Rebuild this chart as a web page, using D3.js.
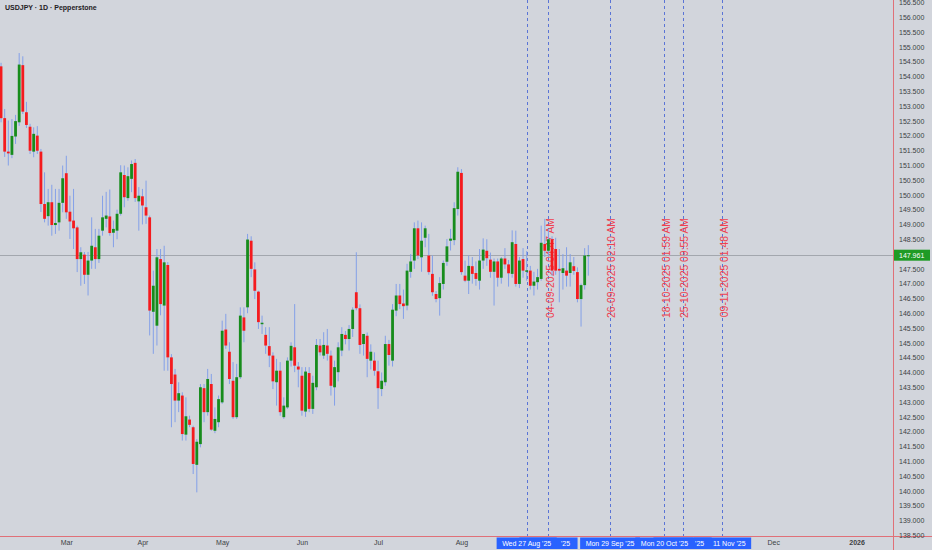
<!DOCTYPE html>
<html><head><meta charset="utf-8">
<script src="https://cdn.jsdelivr.net/npm/d3@7"></script>
<style>
html,body{margin:0;padding:0;background:#d2d5dc;}
svg{display:block;font-family:"Liberation Sans",Arial,sans-serif;}
</style>
</head><body>
<svg id="chart" width="932" height="550"></svg>
<script>
// ---------------- DATA ----------------
const title = "USDJPY · 1D · Pepperstone";
const firstDay = "2025-02-05";
const lastDay = "2025-09-19";

const open = [
 154.34,152.59,151.46,151.35,151.97,152.45,154.38,152.79,152.30,151.46,152.00,151.46,149.69,149.28,149.75,148.98,149.07,149.73,
 150.73,149.43,149.13,148.90,147.83,147.98,147.30,147.78,148.23,147.83,148.79,149.19,149.27,148.72,148.79,149.36,150.67,149.89,150.54,151.08,149.78,
 149.95,149.58,149.24,146.05,145.58,147.83,146.26,147.63,144.51,143.93,143.05,143.22,141.90,142.41,142.15,140.88,141.58,143.47,142.66,143.61,142.03,142.32,
 142.99,145.45,144.70,143.72,142.49,143.84,145.86,146.20,148.45,147.48,146.73,145.63,145.27,144.89,144.57,143.67,144.06,142.49,142.82,144.40,144.85,144.20,
 143.89,142.68,143.98,142.77,143.50,144.91,144.57,144.91,144.57,143.50,144.01,144.74,145.27,145.13,145.47,146.71,146.17,144.96,145.24,144.40,144.40,
 144.04,143.44,143.67,144.96,144.40,146.09,146.60,146.33,146.26,147.40,147.78,148.87,147.89,148.55,147.95,147.33,146.65,146.51,146.99,147.74,148.45,148.47,149.52,
 150.74,147.27,147.10,147.59,147.36,147.10,147.78,148.11,147.81,147.40,147.75,147.20,147.85,147.65,147.33,148.34,146.99,147.83,147.40,147.44,146.93,
 147.05,147.16,148.34,148.11,148.50,148.17,147.50,147.36,147.44,147.36,147.59,147.39,146.48,146.95,147.95
];
const high = [
 154.46,152.90,152.51,152.56,152.70,154.79,154.68,153.14,152.40,152.28,152.32,151.55,150.76,150.20,150.34,150.20,150.20,150.99,
 151.32,149.97,150.20,148.96,148.23,148.07,148.07,149.24,148.85,148.85,149.97,150.10,150.18,149.13,149.50,151.00,150.99,150.93,151.16,151.21,150.26,
 150.20,150.48,149.30,147.44,148.17,148.17,148.28,147.73,144.62,144.12,143.67,143.33,143.16,142.54,142.20,141.75,143.61,143.61,144.12,143.95,142.82,143.22,
 145.75,145.98,145.02,144.35,144.29,146.20,146.20,148.68,148.60,147.72,146.76,145.92,145.53,145.53,144.68,144.46,144.35,143.16,144.51,145.02,146.31,144.35,
 144.18,144.18,144.18,143.89,145.13,145.13,145.36,145.47,144.74,144.40,145.02,145.53,145.40,145.60,146.20,148.06,146.30,145.30,145.35,144.95,144.68,
 144.40,144.00,145.24,145.10,146.31,146.99,146.99,146.80,147.67,148.00,149.07,149.13,149.07,148.96,148.68,147.95,146.75,147.22,147.78,148.51,148.85,149.75,150.93,
 150.87,147.78,147.95,147.90,147.75,148.17,148.53,148.50,148.05,147.85,147.85,147.90,148.20,147.80,148.80,148.79,147.90,148.20,148.10,147.60,147.40,
 147.50,148.96,149.19,148.85,148.60,148.55,148.17,148.00,148.23,148.00,147.90,147.55,147.00,148.20,148.30
];
const low = [
 152.45,151.28,150.99,151.24,151.72,152.33,152.73,152.26,151.38,151.27,151.38,149.42,149.07,148.96,148.62,148.68,148.79,149.41,
 149.19,148.51,148.17,147.39,146.93,146.99,146.60,147.50,147.50,147.70,148.62,148.90,148.62,148.23,148.50,149.30,149.58,149.80,150.09,149.76,148.79,
 149.00,149.02,145.25,144.63,144.91,145.93,144.06,144.06,142.15,142.32,142.66,141.70,141.70,142.15,140.57,139.95,141.47,142.32,142.54,142.03,141.95,142.15,
 142.94,144.80,143.61,142.43,142.43,143.78,145.02,146.00,147.22,146.48,145.47,145.30,144.63,144.18,143.44,142.88,142.54,142.43,142.77,144.20,144.01,143.50,
 142.54,142.50,142.66,142.60,143.40,144.57,144.46,144.40,143.22,142.88,143.70,144.55,144.95,144.74,145.20,146.10,144.63,144.57,143.84,144.10,143.89,
 142.77,143.20,143.55,144.23,144.20,145.90,146.14,145.81,146.10,147.20,147.50,147.83,147.40,148.23,147.30,146.59,146.37,145.92,146.80,147.60,148.12,148.30,149.30,
 147.30,147.05,146.65,147.00,146.93,146.80,147.50,147.60,147.20,146.26,146.90,147.00,147.50,146.90,147.20,146.90,146.85,147.20,147.10,146.80,146.60,
 146.80,147.10,147.90,147.90,147.27,147.30,146.37,146.80,146.90,146.90,147.30,146.37,145.55,146.80,147.27
];
const close = [
 152.59,151.46,151.40,151.99,152.49,154.40,152.81,152.36,151.49,152.06,151.49,149.69,149.19,149.75,148.98,149.05,149.73,150.56,
 149.41,149.10,148.87,147.83,148.06,147.30,147.78,148.28,147.83,148.62,149.24,149.30,148.71,148.85,149.36,150.76,149.92,150.63,151.04,149.89,149.97,
 149.64,149.30,146.09,146.93,147.89,146.31,147.72,144.51,143.61,143.05,143.30,141.92,142.52,142.23,140.91,141.66,143.50,142.66,143.78,142.07,142.43,143.10,
 145.41,144.91,143.78,142.49,143.84,145.92,145.41,148.49,147.50,146.76,145.70,145.68,144.91,144.57,143.70,144.06,142.66,142.88,144.40,144.90,144.23,144.10,
 142.71,144.03,142.77,143.65,144.93,144.68,144.93,144.63,143.55,144.18,144.85,145.30,145.13,145.47,146.12,146.17,144.93,145.30,144.46,144.70,144.06,
 143.47,143.72,144.96,144.59,146.12,146.60,146.31,146.24,147.44,147.75,148.87,147.95,148.45,148.87,147.39,146.71,146.48,147.02,147.70,148.26,148.52,149.55,150.78,
 147.39,147.10,147.60,147.33,147.16,147.78,148.15,147.86,147.40,147.75,147.20,147.85,147.65,147.35,148.40,146.99,147.78,147.44,147.45,146.93,147.07,
 147.22,148.38,148.11,148.50,147.44,147.44,147.44,147.52,147.27,147.72,147.43,146.48,146.95,147.95,147.96
];
const lastPrice = 147.961;

const priceTicks = [138.5,139,139.5,140,140.5,141,141.5,142,142.5,143,143.5,144,144.5,145,145.5,146,146.5,147,147.5,148,
  148.5,149,149.5,150,150.5,151,151.5,152,152.5,153,153.5,154,154.5,155,155.5,156,156.5];

const monthTickDates = ["2025-03-03","2025-04-01","2025-05-01","2025-06-02","2025-07-01","2025-08-01","2025-09-01","2025-10-01","2025-11-03","2025-12-01","2026-01-01"];
const monthTickLabels = ["Mar","Apr","May","Jun","Jul","Aug","Sep","Oct","Nov","Dec","2026"];

const markerDates = ["2025-08-27","2025-09-04","2025-09-29","2025-10-20","2025-10-27","2025-11-11"];
const markerAxisLabels = ["Wed 27 Aug '25","Thu 04 Sep '25","Mon 29 Sep '25","Mon 20 Oct '25","Mon 27 Oct '25","Tue 11 Nov '25"];
const markerTexts = ["","04-09-2025 04:47 AM","26-09-2025 02:10 AM","18-10-2025 01:59 AM","25-10-2025 09:55 AM","09-11-2025 01:48 AM"];
const markerDrawOrder = [5,4,2,3,1,0]; // bottom -> top

// ---------------- CALENDAR (weekday bars) ----------------
const iso = d3.utcFormat("%Y-%m-%d");
const calendar = d3.utcDay.range(new Date("2025-01-01T00:00:00Z"), new Date("2026-02-01T00:00:00Z"))
  .filter(d => d.getUTCDay() !== 0 && d.getUTCDay() !== 6).map(iso);
const idx = s => calendar.indexOf(s);
const i0 = idx(firstDay), i1 = idx(lastDay);
const candles = d3.range(i0, i1 + 1).map((ci, k) => ({
  i: ci, o: open[k], h: high[k], l: low[k], c: close[k]
}));

// ---------------- SCALES ----------------
const W = 932, H = 550, axisX = 893.5, axisY = 536.5;
const FONT = 7;
const x = d3.scaleLinear().domain([i0, i1]).range([1.05, 588.3]);
const y = d3.scaleLinear().domain([138.5, 156.5]).range([535.3, 2.4]);

const svg = d3.select("#chart");
svg.append("rect").attr("width", W).attr("height", H).attr("fill", "#d2d5dc");

const defs = svg.append("defs");
defs.append("clipPath").attr("id","clip").append("rect").attr("x",0).attr("y",0).attr("width",axisX).attr("height",axisY);
const pg = svg.append("g").attr("clip-path","url(#clip)");

// marker dashed lines
pg.selectAll("line.mk").data(markerDates).join("line")
  .attr("class","mk")
  .attr("x1", d => Math.round(x(idx(d))) + 0.5).attr("x2", d => Math.round(x(idx(d))) + 0.5)
  .attr("y1", 0).attr("y2", axisY)
  .attr("stroke", "#5a74d6").attr("stroke-width", 1).attr("stroke-dasharray", "3,3");

// red rotated marker texts (behind candles)
pg.selectAll("text.mt").data(markerDates.map((d,k)=>({d, t: markerTexts[k]})).filter(o=>o.t)).join("text")
  .attr("class","mt")
  .attr("transform", o => `translate(${x(idx(o.d)) + 5.2},218) rotate(-90)`)
  .attr("text-anchor","end")
  .attr("font-size", 10.4)
  .attr("fill", "#ef4150")
  .text(o => o.t);

// last price line
pg.append("line").attr("x1",0).attr("x2",axisX).attr("y1", Math.round(y(lastPrice))+0.5).attr("y2", Math.round(y(lastPrice))+0.5)
  .attr("stroke","#a3a7ae").attr("stroke-width",1);

// wicks
pg.selectAll("line.wick").data(candles).join("line")
  .attr("class","wick")
  .attr("x1", d => x(d.i)).attr("x2", d => x(d.i))
  .attr("y1", d => y(d.h)).attr("y2", d => y(d.l))
  .attr("stroke", "#84a0e8").attr("stroke-width", 1);

// bodies
const bw = 2.8;
pg.selectAll("rect.body").data(candles).join("rect")
  .attr("class","body")
  .attr("x", d => x(d.i) - bw/2)
  .attr("y", d => y(Math.max(d.o, d.c)))
  .attr("width", bw)
  .attr("height", d => Math.max(1, Math.abs(y(d.o) - y(d.c))))
  .attr("fill", d => d.c >= d.o ? "#178c1c" : "#f41b1e");

// axis lines
svg.append("line").attr("x1",0).attr("x2",W).attr("y1",axisY).attr("y2",axisY).attr("stroke","#e07078").attr("stroke-width",1);
svg.append("line").attr("x1",axisX).attr("x2",axisX).attr("y1",0).attr("y2",H).attr("stroke","#e07078").attr("stroke-width",1);

// right price axis
const ya = svg.append("g").attr("transform",`translate(${axisX},0)`)
  .call(d3.axisRight(y).tickValues(priceTicks.filter(v => Math.abs(y(v) - y(lastPrice)) > 8))
    .tickFormat(d3.format(".3f")).tickSize(0).tickPadding(5.5));
ya.select(".domain").remove();
ya.selectAll("text").attr("font-size", FONT).attr("fill", "#3d3f44").attr("font-family","Liberation Sans, Arial, sans-serif");

// marker badge geometry
const meas = svg.append("text").attr("font-size", FONT).attr("visibility","hidden");
const badges = markerDates.map((d,k) => {
  meas.text(markerAxisLabels[k]);
  const w = meas.node().getComputedTextLength() + 11;
  const cx = x(idx(d));
  return {k, cx, L: cx - w/2, R: cx + w/2, label: markerAxisLabels[k]};
});
meas.remove();

// bottom time axis (skip month labels hidden under marker badges)
const shownTicks = monthTickDates.map((d,k)=>({v: idx(d), t: monthTickLabels[k]}))
  .filter(o => !badges.some(b => x(o.v) > b.L - 6 && x(o.v) < b.R + 6));
const xa = svg.append("g").attr("transform",`translate(0,${axisY})`)
  .call(d3.axisBottom(x).tickValues(shownTicks.map(o=>o.v))
    .tickFormat(v => shownTicks.find(o=>o.v===v).t).tickSize(0).tickPadding(3.2));
xa.select(".domain").remove();
xa.selectAll("text").attr("font-size", FONT).attr("fill", "#3d3f44").attr("font-family","Liberation Sans, Arial, sans-serif")
  .attr("font-weight", v => shownTicks.find(o=>o.v===v).t === "2026" ? "bold" : "normal");

// last price badge
const py = y(lastPrice);
svg.append("rect").attr("x", axisX + 0.5).attr("y", py - 5.5).attr("width", 36).attr("height", 11).attr("fill", "#1f9b25");
svg.append("text").attr("x", axisX + 5.5).attr("y", py + 2.5).attr("font-size", FONT).attr("fill", "#ffffff").text(lastPrice.toFixed(3));

// marker date badges: drawn bottom->top, text trimmed to the part not covered by later badges
const mb = svg.append("g");
markerDrawOrder.forEach((k, pos) => {
  const b = badges[k];
  const above = markerDrawOrder.slice(pos + 1).map(j => badges[j]);
  let segs = [[b.L, b.R]];
  above.forEach(a => {
    segs = segs.flatMap(([s,e]) => {
      if (a.R <= s || a.L >= e) return [[s,e]];
      const out = [];
      if (a.L > s) out.push([s, a.L]);
      if (a.R < e) out.push([a.R, e]);
      return out;
    });
  });
  if (!segs.length) return;
  const seg = segs.reduce((m,s) => (s[1]-s[0] > m[1]-m[0] ? s : m));
  const g = mb.append("g");
  g.append("rect").attr("x", b.L).attr("y", 537.5).attr("width", b.R - b.L).attr("height", 11.5).attr("fill", "#2962ff");
  const t = g.append("text").attr("x", b.cx).attr("y", 545.6).attr("text-anchor","middle")
    .attr("font-size", FONT).attr("fill", "#ffffff").text(b.label);
  const n = t.node();
  let first = -1, last = -1;
  for (let c = 0; c < b.label.length; c++) {
    const s = n.getStartPositionOfChar(c).x, e = n.getEndPositionOfChar(c).x;
    if (s >= seg[0] + 0.5 && e <= seg[1] - 0.5) { if (first < 0) first = c; last = c; }
  }
  if (first < 0) { t.remove(); return; }
  const sx = n.getStartPositionOfChar(first).x;
  t.attr("text-anchor","start").attr("x", sx).text(b.label.slice(first, last + 1));
});

// title
svg.append("text").attr("x", 5).attr("y", 10).attr("font-size", FONT).attr("font-weight","bold").attr("fill","#1f2024").text(title);
</script>
</body></html>
